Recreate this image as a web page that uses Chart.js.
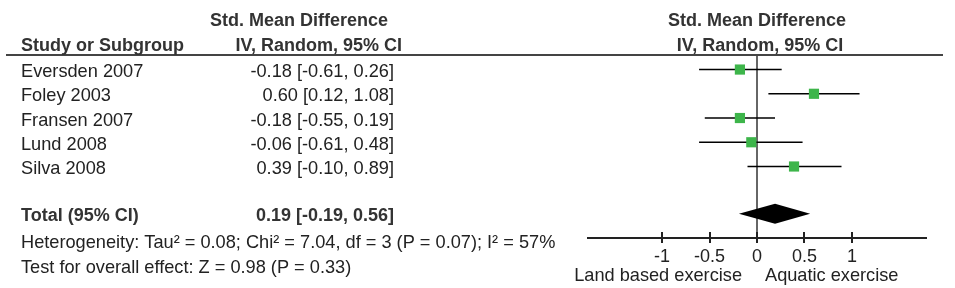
<!DOCTYPE html>
<html>
<head>
<meta charset="utf-8">
<script src="https://cdn.jsdelivr.net/npm/chart.js@4/dist/chart.umd.min.js"></script>
<style>
  html, body { margin: 0; padding: 0; background: #fff; }
  #wrap { width: 955px; height: 288px; position: relative; }
</style>
</head>
<body>
<div id="wrap"><canvas id="forest" width="955" height="288"></canvas></div>
<script>
// data
const studies = ['Eversden 2007', 'Foley 2003', 'Fransen 2007', 'Lund 2008', 'Silva 2008'];
const smd = [-0.18, 0.60, -0.18, -0.06, 0.39];
const ciLow = [-0.61, 0.12, -0.55, -0.61, -0.10];
const ciHigh = [0.26, 1.08, 0.19, 0.48, 0.89];
const rows = [1, 2, 3, 4, 5];
const totalEst = 0.19, totalLow = -0.19, totalHigh = 0.56;
const totalRow = 6.95;
const xTicks = [-1, -0.5, 0, 0.5, 1];
const heterogeneity = 'Heterogeneity: Tau\u00b2 = 0.08; Chi\u00b2 = 7.04, df = 3 (P = 0.07); I\u00b2 = 57%';
const overallTest = 'Test for overall effect: Z = 0.98 (P = 0.33)';
const favoursLeft = 'Land based exercise';
const favoursRight = 'Aquatic exercise';

const FONT = '"Liberation Sans", Arial, Helvetica, sans-serif';
const fmt = v => v.toFixed(2);

const ciLines = studies.map((s, i) => ({
    type: 'line',
    label: s + ' CI',
    data: [{ x: ciLow[i], y: rows[i] }, { x: ciHigh[i], y: rows[i] }],
    borderColor: '#000',
    borderWidth: 1.6,
    pointRadius: 0,
    order: 2
}));

const tablePlugin = {
    id: 'tablePlugin',
    afterDraw(chart) {
        const ctx = chart.ctx;
        const xs = chart.scales.x, ys = chart.scales.y;
        ctx.save();

        // header rule
        ctx.strokeStyle = '#444';
        ctx.lineWidth = 2;
        ctx.beginPath();
        ctx.moveTo(6, 55);
        ctx.lineTo(943, 55);
        ctx.stroke();

        // tick marks crossing the axis
        ctx.strokeStyle = '#222';
        ctx.lineWidth = 2;
        xTicks.forEach(t => {
            const px = Math.round(xs.getPixelForValue(t));
            ctx.beginPath();
            ctx.moveTo(px, xs.top - 6);
            ctx.lineTo(px, xs.top + 5);
            ctx.stroke();
        });

        // pooled diamond
        const dy = ys.getPixelForValue(totalRow);
        ctx.fillStyle = '#000';
        ctx.beginPath();
        ctx.moveTo(xs.getPixelForValue(totalLow), dy);
        ctx.lineTo(xs.getPixelForValue(totalEst), dy - 10);
        ctx.lineTo(xs.getPixelForValue(totalHigh), dy);
        ctx.lineTo(xs.getPixelForValue(totalEst), dy + 10);
        ctx.closePath();
        ctx.fill();

        // headers
        ctx.textBaseline = 'middle';
        ctx.fillStyle = '#333';
        ctx.font = 'bold 18px ' + FONT;
        ctx.textAlign = 'left';
        ctx.fillText('Study or Subgroup', 21, 46);
        ctx.textAlign = 'right';
        ctx.fillText('Std. Mean Difference', 388, 21);
        ctx.fillText('IV, Random, 95% CI', 402, 46);
        ctx.textAlign = 'center';
        const zx = xs.getPixelForValue(0);
        ctx.fillText('Std. Mean Difference', zx, 21);
        ctx.fillText('IV, Random, 95% CI', zx + 3, 46);

        // study rows
        ctx.fillStyle = '#222';
        ctx.font = '18.2px ' + FONT;
        studies.forEach((s, i) => {
            const y = ys.getPixelForValue(rows[i]) + 2.5;
            ctx.textAlign = 'left';
            ctx.fillText(s, 21, y);
            ctx.textAlign = 'right';
            ctx.fillText(fmt(smd[i]) + ' [' + fmt(ciLow[i]) + ', ' + fmt(ciHigh[i]) + ']', 394, y);
        });

        // total row
        ctx.fillStyle = '#333';
        ctx.font = 'bold 18px ' + FONT;
        ctx.textAlign = 'left';
        ctx.fillText('Total (95% CI)', 21, dy + 2);
        ctx.textAlign = 'right';
        ctx.fillText(fmt(totalEst) + ' [' + fmt(totalLow) + ', ' + fmt(totalHigh) + ']', 394, dy + 2);

        // footnotes
        ctx.fillStyle = '#222';
        ctx.font = '18.2px ' + FONT;
        ctx.textAlign = 'left';
        ctx.fillText(heterogeneity, 21, 243);
        ctx.fillText(overallTest, 21, 268);

        // favours labels
        ctx.textAlign = 'right';
        ctx.fillText(favoursLeft, 742, 276);
        ctx.textAlign = 'left';
        ctx.fillText(favoursRight, 765, 276);

        ctx.restore();
    }
};

new Chart(document.getElementById('forest').getContext('2d'), {
    type: 'scatter',
    data: {
        datasets: [{
            label: 'Std. Mean Difference',
            data: studies.map((s, i) => ({ x: smd[i], y: rows[i] })),
            pointStyle: 'rect',
            pointRadius: 7.2,
            backgroundColor: '#3db54a',
            borderColor: '#3db54a',
            borderWidth: 0,
            order: 0
        }].concat(ciLines)
    },
    options: {
        responsive: false,
        animation: false,
        events: [],
        layout: { padding: { left: 588, right: 29, top: 55, bottom: 0 } },
        plugins: { legend: { display: false }, tooltip: { enabled: false } },
        scales: {
            x: {
                type: 'linear',
                min: -1.78,
                max: 1.78,
                afterBuildTicks: axis => { axis.ticks = xTicks.map(v => ({ value: v })); },
                afterFit: axis => { axis.height = 50; },
                grid: {
                    drawTicks: false,
                    lineWidth: 2,
                    color: c => (c.tick && c.tick.value === 0) ? '#666' : 'rgba(0,0,0,0)'
                },
                border: { display: true, color: '#222', width: 2 },
                ticks: {
                    padding: 8,
                    color: '#222',
                    font: { family: FONT, size: 18 },
                    callback: v => String(v)
                }
            },
            y: {
                type: 'linear',
                display: false,
                reverse: true,
                min: 0.4,
                max: 7.95
            }
        }
    },
    plugins: [tablePlugin]
});
</script>
</body>
</html>
